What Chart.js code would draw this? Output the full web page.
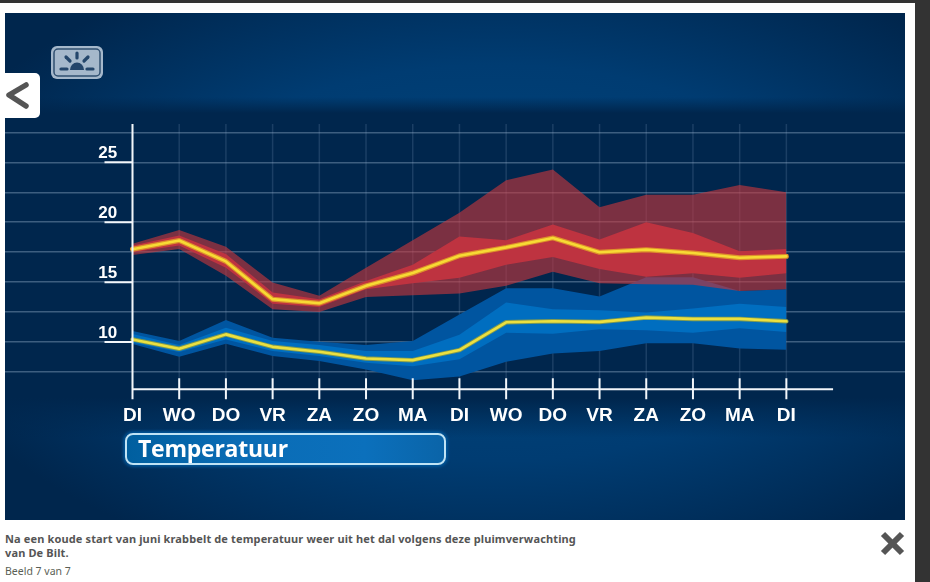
<!DOCTYPE html>
<html>
<head>
<meta charset="utf-8">
<title>Temperatuur</title>
<script src="https://cdn.jsdelivr.net/npm/chart.js@4"></script>
<style>
  html, body { margin: 0; padding: 0; background: #fff; }
  body { width: 930px; height: 582px; position: relative; overflow: hidden; font-family: "Noto Sans", sans-serif; }
  #topBar { position: absolute; left: 0; top: 0; width: 930px; height: 3px; background: #333; }
  #sideBar { position: absolute; left: 915px; top: 0; width: 15px; height: 582px; background: #333; }
  #panel {
    position: absolute; left: 5px; top: 13px; width: 900px; height: 507px;
    background:
      linear-gradient(to bottom, rgba(0,38,77,0) 84px, rgba(0,38,77,1) 100px, rgba(0,38,77,1) 385px, rgba(0,38,77,0) 425px),
      radial-gradient(ellipse 600px 330px at 490px 250px, #00487f 0%, #003c72 60%, #00264d 100%);
  }
  #chartCanvas { position: absolute; left: 0; top: 0; }
  #pill {
    position: absolute; left: 125px; top: 433px; width: 317px; height: 28px;
    border: 2px solid #bfe3f5; border-radius: 8px; box-shadow: 0 0 3px 2px rgba(0,100,175,.7);
    background: linear-gradient(to right, #005f9f 0%, #0a6cb5 35%, #0b70bc 75%, #0a64a8 100%);
    color: #fff; font: bold 23px "Open Sans", sans-serif; letter-spacing: -0.25px; line-height: 27px; text-indent: 11px;
  }
  #backBtn { position: absolute; left: 5px; top: 73px; width: 35px; height: 45px; background: #fff; border-radius: 0 5px 5px 0; }
  #caption { position: absolute; left: 5px; top: 532px; width: 600px; font: bold 11px/14px "Noto Sans", sans-serif; letter-spacing: 0.135px; color: #555; }
  #counter { position: absolute; left: 5px; top: 564px; font: 10.5px/14px "Noto Sans", sans-serif; color: #5a5f55; }
  svg { position: absolute; }
</style>
</head>
<body>
<div id="topBar"></div>
<div id="sideBar"></div>
<div id="panel"><canvas id="chartCanvas" width="900" height="507"></canvas></div>
<div id="backBtn"></div>
<svg style="left:5px;top:81px" width="26" height="30"><polyline points="21,4 4,14 21,25" fill="none" stroke="#555" stroke-width="5.5" stroke-linecap="round" stroke-linejoin="round"/></svg>
<svg style="left:51px;top:46px" width="52" height="33">
  <rect x="0" y="0" width="52" height="33" rx="6" fill="#a5b8cb"/>
  <rect x="3" y="3" width="46" height="27" rx="4" fill="none" stroke="#2f4f70" stroke-width="1.5"/>
  <path d="M19 24 a7 7.5 0 0 1 14 0 z" fill="#24466b"/>
  <g stroke="#24466b" stroke-width="3.2" stroke-linecap="round">
    <line x1="26" y1="7" x2="26" y2="12"/><line x1="15" y1="11" x2="19" y2="15"/><line x1="37" y1="11" x2="33" y2="15"/>
    <line x1="10" y1="23" x2="16" y2="23"/><line x1="36" y1="23" x2="42" y2="23"/>
  </g>
</svg>
<div id="pill">Temperatuur</div>
<div id="caption">Na een koude start van juni krabbelt de temperatuur weer uit het dal volgens deze pluimverwachting<br>van De Bilt.</div>
<div id="counter">Beeld 7 van 7</div>
<svg style="left:880px;top:531px" width="25" height="25"><g stroke="#555" stroke-width="6"><line x1="3" y1="3" x2="22" y2="22"/><line x1="22" y1="3" x2="3" y2="22"/></g></svg>

<script>
// --- Data ---
const days = ["DI", "WO", "DO", "VR", "ZA", "ZO", "MA", "DI", "WO", "DO", "VR", "ZA", "ZO", "MA", "DI"];
const yTicks = [7.5, 10, 12.5, 15, 17.5, 20, 22.5, 25, 27.5];
const yLabels = [10, 15, 20, 25];

const maxHigh = [18.2, 19.36, 17.96, 14.97, 13.86, 16.2, 18.5, 20.8, 23.5, 24.4, 21.26, 22.3, 22.3, 23.1, 22.5];
const upperHigh = [18.05, 18.9, 17.35, 14.13, 13.58, 15.1, 16.45, 18.8, 18.5, 19.8, 18.55, 20.0, 19.1, 17.57, 17.77];
const medianHigh = [17.74, 18.47, 16.73, 13.58, 13.24, 14.69, 15.76, 17.2, 17.9, 18.69, 17.49, 17.71, 17.43, 17.04, 17.15];
const lowerHigh = [17.49, 18.05, 16.2, 13.2, 12.93, 14.4, 14.9, 15.36, 16.45, 17.1, 16.1, 15.45, 15.75, 15.36, 15.75];
const minHigh = [17.27, 17.77, 15.53, 12.74, 12.5, 13.77, 13.91, 14.06, 14.69, 15.87, 14.9, 14.83, 14.78, 14.27, 14.4];

const maxLow = [10.92, 10.08, 11.84, 10.36, 10.03, 9.75, 10.08, 12.3, 14.5, 14.5, 13.8, 15.4, 15.4, 14.27, 14.4];
const upperLow = [10.67, 9.75, 11.2, 10.08, 9.75, 9.25, 9.25, 10.6, 13.3, 12.74, 12.66, 12.46, 12.8, 13.2, 12.93];
const medianLow = [10.22, 9.44, 10.64, 9.6, 9.19, 8.63, 8.49, 9.33, 11.65, 11.73, 11.68, 12.04, 11.93, 11.93, 11.73];
const lowerLow = [9.94, 9.16, 10.22, 9.25, 8.83, 8.27, 7.99, 8.57, 10.78, 10.7, 11.06, 10.98, 10.78, 11.15, 10.84];
const minLow = [9.83, 8.77, 9.86, 8.83, 8.41, 7.71, 6.81, 7.12, 8.35, 9.05, 9.25, 9.89, 9.89, 9.47, 9.35];

const asPoints = values => values.map((v, i) => ({ x: i, y: v }));

// band: filled from this series down to the dataset at index target
function band(values, target, color) {
  return { data: asPoints(values), borderWidth: 0, pointRadius: 0, tension: 0, backgroundColor: color, fill: { target } };
}
function edge(values) {
  return { data: asPoints(values), borderWidth: 0, pointRadius: 0, tension: 0, fill: false };
}
function line(values, color, width) {
  return { data: asPoints(values), borderColor: color, borderWidth: width, pointRadius: 0, tension: 0, fill: false, borderJoinStyle: 'round', borderCapStyle: 'round' };
}

// --- Axes that stop at the plot corner, and the tick marks ---
const axesPlugin = {
  id: 'axesPlugin',
  beforeDatasetsDraw(chart) {
    const { ctx, scales: { x, y } } = chart;
    ctx.save();
    ctx.strokeStyle = 'rgba(150,180,210,0.18)';
    ctx.lineWidth = 1.5;
    days.forEach((_, i) => {
      ctx.beginPath();
      ctx.moveTo(x.getPixelForValue(i), y.getPixelForValue(28.2));
      ctx.lineTo(x.getPixelForValue(i), y.getPixelForValue(6.06));
      ctx.stroke();
    });
    ctx.restore();
  },
  afterDatasetsDraw(chart) {
    const { ctx, scales: { x, y } } = chart;
    const x0 = x.getPixelForValue(0);
    const yAxis = y.getPixelForValue(6.06);
    ctx.save();
    ctx.strokeStyle = '#f2f6fa';
    ctx.lineWidth = 2;
    ctx.beginPath();
    ctx.moveTo(x0, y.getPixelForValue(28.2));
    ctx.lineTo(x0, yAxis + 10);
    ctx.moveTo(x0, yAxis);
    ctx.lineTo(x.getPixelForValue(15), yAxis);
    days.forEach((_, i) => {
      if (i === 0) return;
      const px = x.getPixelForValue(i);
      ctx.moveTo(px, yAxis - 11);
      ctx.lineTo(px, yAxis + 10);
    });
    yLabels.forEach(v => {
      const py = y.getPixelForValue(v);
      ctx.moveTo(x0 - 28, py);
      ctx.lineTo(x0, py);
    });
    ctx.stroke();
    ctx.restore();
  }
};

new Chart(document.getElementById('chartCanvas').getContext('2d'), {
  type: 'line',
  plugins: [axesPlugin],
  data: {
    labels: days,
    // first dataset is drawn on top
    datasets: [
      line(medianHigh, '#f7da34', 2.6),       // 0
      line(medianHigh, '#dd8f2c', 5),         // 1
      line(medianLow, '#ebe040', 2.6),        // 2
      line(medianLow, '#7f9a52', 4.5),        // 3
      band(upperHigh, 5, '#be3340'),          // 4
      edge(lowerHigh),                        // 5
      band(maxHigh, 7, 'rgba(205,55,60,0.6)'), // 6
      edge(minHigh),                          // 7
      band(upperLow, 9, '#006ec0'),           // 8
      edge(lowerLow),                         // 9
      band(maxLow, 11, '#0055a0'),            // 10
      edge(minLow)                            // 11
    ]
  },
  options: {
    responsive: false,
    animation: false,
    layout: { padding: 0 },
    plugins: { legend: { display: false }, tooltip: { enabled: false } },
    scales: {
      x: {
        type: 'linear',
        position: { y: 5.47 },
        min: -2.73,
        max: 16.54,
        border: { display: false },
        grid: { display: false },
        afterBuildTicks: scale => { scale.ticks = days.map((_, i) => ({ value: i })); },
        ticks: {
          autoSkip: false,
          maxRotation: 0,
          padding: 0,
          color: '#ffffff',
          font: { family: 'Liberation Sans', weight: 'bold', size: 19 },
          callback: value => days[value]
        }
      },
      y: {
        type: 'linear',
        position: { x: -0.33 },
        min: -4,
        max: 36.61,
        border: { display: false },
        grid: { color: 'rgba(170,195,220,0.36)', lineWidth: 1.5, drawTicks: false },
        afterBuildTicks: scale => { scale.ticks = yTicks.map(v => ({ value: v })); },
        ticks: {
          autoSkip: false,
          padding: 0,
          labelOffset: -9,
          color: '#ffffff',
          font: { family: 'Liberation Sans', weight: 'bold', size: 17 },
          callback: value => (yLabels.includes(value) ? String(value) : '')
        }
      }
    }
  }
});
</script>
</body>
</html>
